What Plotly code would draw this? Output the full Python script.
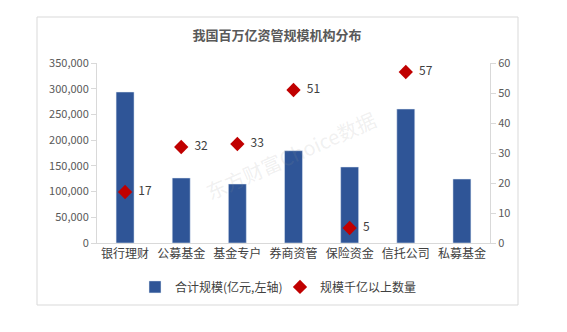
import plotly.graph_objects as go

categories = ["银行理财", "公募基金", "基金专户", "券商资管", "保险资金", "信托公司", "私募基金"]
scale_values = [293600, 126400, 114700, 179500, 147800, 260500, 124400]
count_values = [17, 32, 33, 51, 5, 57, None]
count_labels = ["17", "32", "33", "51", "5", "57", ""]
left_ticks = [0, 50000, 100000, 150000, 200000, 250000, 300000, 350000]
right_ticks = [0, 10, 20, 30, 40, 50, 60]

FONT = "Noto Sans CJK SC"
GRAY = "#595959"
AX = "#D9D9D9"

fig = go.Figure()
fig.add_trace(go.Bar(
    x=categories, y=scale_values, name="合计规模(亿元,左轴)",
    marker=dict(color="#2F5597"), yaxis="y",
))
fig.add_trace(go.Scatter(
    x=categories, y=count_values, name="规模千亿以上数量",
    mode="markers+text", text=["  " + t for t in count_labels],
    textposition="middle right", textfont=dict(size=12, color="#404040", family=FONT),
    marker=dict(symbol="diamond", size=11, color="#C00000"),
    yaxis="y2", cliponaxis=False,
))

fig.update_layout(
    width=567, height=332,
    margin=dict(l=97, r=77, t=63, b=89),
    paper_bgcolor="white", plot_bgcolor="white",
    font=dict(family=FONT, color=GRAY, size=11),
    bargap=0.68,
    showlegend=True,
    title=dict(text="<b>我国百万亿资管规模机构分布</b>", x=(277) / 567, xanchor="center",
               y=1 - 35 / 332, yanchor="middle", font=dict(size=13, color=GRAY, family=FONT)),
    xaxis=dict(showline=True, linecolor=AX, ticks="", showgrid=False,
               tickfont=dict(size=12, color="#404040", family=FONT)),
    yaxis=dict(range=[0, 350000], tickvals=left_ticks, tickformat=",", showgrid=False,
               showline=True, linecolor=AX, ticks="outside", tickcolor=AX, ticklen=5,
               zeroline=False, tickfont=dict(size=11, color=GRAY)),
    yaxis2=dict(range=[0, 60], tickvals=right_ticks, overlaying="y", side="right",
                showgrid=False, showline=True, linecolor=AX, ticks="outside",
                tickcolor=AX, ticklen=5, zeroline=False, tickfont=dict(size=11, color=GRAY)),
    legend=dict(orientation="h", x=(135 - 97) / 393, xanchor="left", y=-0.244,
                yanchor="middle", font=dict(size=12, color="#404040", family=FONT),
                itemwidth=30, entrywidth=100, tracegroupgap=0, bgcolor="rgba(0,0,0,0)"),
    shapes=[dict(type="rect", xref="paper", yref="paper",
                 x0=(37 - 97) / 393, x1=(518 - 97) / 393,
                 y0=(243 - 305) / 180, y1=(243 - 17) / 180,
                 line=dict(color=AX, width=1), fillcolor="rgba(0,0,0,0)", layer="below")],
    annotations=[dict(text="东方财富Choice数据", xref="paper", yref="paper",
                      x=(290 - 97) / 393, y=(243 - 155) / 180, showarrow=False,
                      textangle=-24, font=dict(size=20, color="rgba(150,150,150,0.15)", family=FONT))],
)

fig.write_html("out.html")
